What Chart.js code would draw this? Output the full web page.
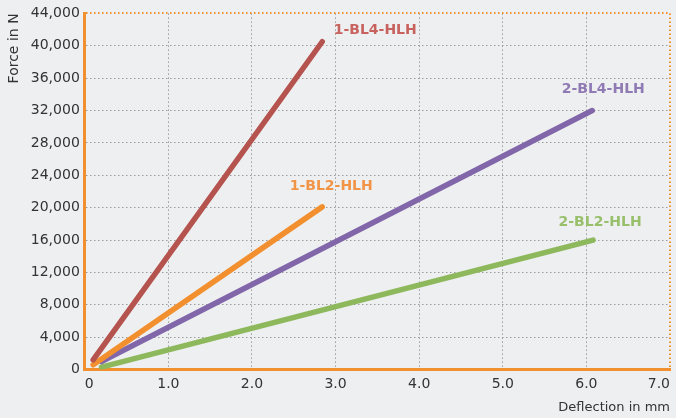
<!DOCTYPE html>
<html>
<head>
<meta charset="utf-8">
<script src="https://cdn.jsdelivr.net/npm/chart.js@4/dist/chart.umd.min.js"></script>
<style>
html,body{margin:0;padding:0;background:#eeeff1;}
#wrap{width:676px;height:418px;}
</style>
</head>
<body>
<div id="wrap"><canvas id="graph" width="676" height="418"></canvas></div>
<script>

// =============================
// DATA
// =============================

const seriesNames = ["1-BL4-HLH","1-BL2-HLH","2-BL4-HLH","2-BL2-HLH"]

// deflection in mm (start, end) and force in N (start, end)
const deflection1BL4 = [0.10, 2.84]
const force1BL4 = [1200, 40500]

const deflection1BL2 = [0.10, 2.84]
const force1BL2 = [600, 20100]

const deflection2BL4 = [0.20, 6.07]
const force2BL4 = [1000, 32000]

const deflection2BL2 = [0.20, 6.08]
const force2BL2 = [300, 16000]

const xTicks = [0,1,2,3,4,5,6,7]
const yTicks = [0,4000,8000,12000,16000,20000,24000,28000,32000,36000,40000,44000]

const lineColors = ["#b5534f","#f28f2e","#8167a9","#8db85b"]
const labelColors = ["#c8625e","#f29446","#8f7ab4","#98bf6a"]

// label offsets from the line end, in px
const labelOffsets = [[53,-11],[9,-21],[11,-21],[7,-18]]


// =============================
// BUILD DATASETS
// =============================

function pts(xs,ys){
return xs.map((x,i)=>({x:x,y:ys[i]}))
}

const seriesPoints = [
pts(deflection1BL4,force1BL4),
pts(deflection1BL2,force1BL2),
pts(deflection2BL4,force2BL4),
pts(deflection2BL2,force2BL2)
]

const datasets = seriesNames.map((name,i)=>({
label:name,
data:seriesPoints[i],
borderColor:lineColors[i],
backgroundColor:lineColors[i],
borderWidth:5.5,
borderCapStyle:"round",
pointRadius:0,
showLine:true,
fill:false
}))


// =============================
// LINE END LABELS
// =============================

const endLabels = {
id:"endLabels",
afterDatasetsDraw(chart){
const ctx = chart.ctx
const xs = chart.scales.x
const ys = chart.scales.y
ctx.save()
ctx.font = "bold 14px 'DejaVu Sans'"
ctx.textAlign = "center"
ctx.textBaseline = "middle"
chart.data.datasets.forEach((ds,i)=>{
const last = ds.data[ds.data.length-1]
const px = xs.getPixelForValue(last.x)+labelOffsets[i][0]
const py = ys.getPixelForValue(last.y)+labelOffsets[i][1]
ctx.fillStyle = labelColors[i]
ctx.fillText(ds.label,px,py)
})
ctx.restore()
}
}


// =============================
// CHART
// =============================

const orange = "#f28f2e"
const gridGray = "#9a9a9a"

new Chart(document.getElementById("graph"),{
type:"scatter",
data:{datasets:datasets},
plugins:[endLabels],
options:{
responsive:false,
animation:false,
layout:{padding:{top:0,right:-4,left:1,bottom:3}},
plugins:{
legend:{display:false},
tooltip:{enabled:false}
},
scales:{
x:{
type:"linear",
min:0,
max:7,
afterBuildTicks(scale){ scale.ticks = xTicks.map(v=>({value:v})) },
ticks:{
align:"inner",
padding:6,
color:"#333333",
font:{family:"DejaVu Sans",size:14},
callback:v=> v===0 ? "0" : v.toFixed(1)
},
grid:{
drawTicks:false,
color:c=> c.tick && c.tick.value===7 ? orange : gridGray,
lineWidth:c=> c.tick && c.tick.value===7 ? 2 : 1
},
border:{display:true,color:orange,width:3,dash:[1.5,2.5]},
title:{
display:true,
text:"Deflection in mm",
align:"end",
color:"#333333",
font:{family:"DejaVu Sans",size:13},
padding:{top:1,bottom:0}
}
},
y:{
type:"linear",
min:0,
max:44000,
afterBuildTicks(scale){ scale.ticks = yTicks.map(v=>({value:v})) },
ticks:{
padding:5,
color:"#333333",
font:{family:"DejaVu Sans",size:14},
callback:v=> v.toLocaleString("en-US")
},
grid:{
drawTicks:false,
color:c=> c.tick && c.tick.value===44000 ? orange : gridGray,
lineWidth:c=> c.tick && c.tick.value===44000 ? 2 : 1
},
border:{display:true,color:orange,width:3,dash:[1.5,2.5]},
title:{
display:true,
text:"Force in N",
align:"end",
color:"#333333",
font:{family:"DejaVu Sans",size:14},
padding:{top:5,bottom:3}
}
}
}
}
})
</script>
</body>
</html>
